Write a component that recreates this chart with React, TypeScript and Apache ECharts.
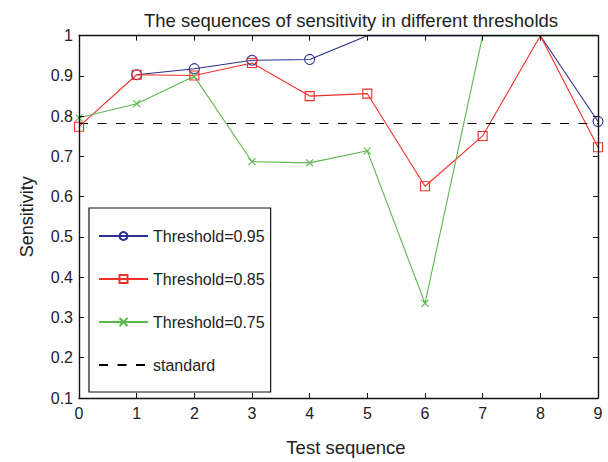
import React, { useEffect, useRef } from "react";
import * as echarts from "echarts";

const xValues = [0, 1, 2, 3, 4, 5, 6, 7, 8, 9];
const threshold095 = [null, 0.903, 0.918, 0.939, 0.941, 1, 1, 1, 1, 0.787];
const threshold085 = [0.774, 0.903, 0.901, 0.932, 0.85, 0.856, 0.626, 0.751, 1, 0.723];
const threshold075 = [0.796, 0.831, 0.899, 0.687, 0.684, 0.714, 0.335, 1, 1, 1];
const standardValue = 0.782;
const seriesNames = ["Threshold=0.95", "Threshold=0.85", "Threshold=0.75", "standard"];
const colors = ["#2b2f8f", "#f2302a", "#5ab84a", "#000000"];

const FONT = "'Liberation Sans', Arial, Helvetica, sans-serif";
const crossPath = "path://M0,0L10,10M10,0L0,10";

function toData(vals: (number | null)[]) {
  return vals.map((v, i) => {
    if (v === null) return [xValues[i], null];
    if (v >= 1) return { value: [xValues[i], v], symbolSize: 0 };
    return [xValues[i], v];
  });
}

export default function App() {
  const ref = useRef<HTMLDivElement>(null);
  useEffect(() => {
    const chart = echarts.init(ref.current!, undefined, { renderer: "svg" });
    const axisCommon = {
      z: 5,
      axisLine: { show: true, onZero: false, lineStyle: { color: "#111", width: 1.4 } },
      axisTick: { show: true, inside: true, length: 5, lineStyle: { color: "#111", width: 1 } },
      splitLine: { show: false },
    };
    const marker = (color: string, symbol: string, size: number) => ({
      symbol,
      symbolSize: size,
      itemStyle: { color: "rgba(0,0,0,0)", borderColor: color, borderWidth: 1.1 },
    });
    chart.setOption({
      animation: false,
      backgroundColor: "#fff",
      title: {
        text: "The sequences of sensitivity in different thresholds",
        left: 346,
        textAlign: "center",
        top: 6,
        textStyle: { fontFamily: FONT, fontSize: 18.5, fontWeight: "normal", color: "#222" },
      },
      grid: { left: 79, right: 10, top: 35.7, bottom: 62, containLabel: false },
      legend: {
        orient: "vertical",
        left: 89,
        top: 208,
        padding: [20, 6, 19, 9],
        itemGap: 27,
        itemWidth: 49,
        itemHeight: 10,
        borderColor: "#111",
        borderWidth: 1.2,
        backgroundColor: "#fff",
        z: 6,
        data: [
          seriesNames[0],
          seriesNames[1],
          seriesNames[2],
          { name: seriesNames[3], itemStyle: { opacity: 0 } },
        ],
        textStyle: { fontFamily: FONT, fontSize: 16, color: "#222" },
      },
      xAxis: [
        {
          ...axisCommon,
          type: "value",
          min: 0,
          max: 9,
          interval: 1,
          position: "bottom",
          name: "Test sequence",
          nameLocation: "middle",
          nameGap: 40,
          nameTextStyle: { fontFamily: FONT, fontSize: 18.5, color: "#222", padding: [0, 0, 0, 15] },
          axisLabel: { margin: 7, fontFamily: FONT, fontSize: 16, color: "#222" },
        },
        {
          ...axisCommon,
          type: "value",
          min: 0,
          max: 9,
          interval: 1,
          position: "top",
          axisLabel: { show: false },
        },
      ],
      yAxis: [
        {
          ...axisCommon,
          type: "value",
          min: 0.1,
          max: 1,
          interval: 0.1,
          position: "left",
          name: "Sensitivity",
          nameLocation: "middle",
          nameGap: 43,
          nameTextStyle: { fontFamily: FONT, fontSize: 18, color: "#222" },
          axisLabel: {
            margin: 6,
            fontFamily: FONT,
            fontSize: 16,
            color: "#222",
            formatter: (v: number) => String(+v.toFixed(1)),
          },
        },
        {
          ...axisCommon,
          type: "value",
          min: 0.1,
          max: 1,
          interval: 0.1,
          position: "right",
          axisLabel: { show: false },
        },
      ],
      series: [
        {
          name: seriesNames[0],
          type: "line",
          data: toData(threshold095),
          lineStyle: { color: colors[0], width: 1.1 },
          ...marker(colors[0], "circle", 10),
          connectNulls: false,
          clip: true,
        },
        {
          name: seriesNames[1],
          type: "line",
          data: toData(threshold085),
          lineStyle: { color: colors[1], width: 1.1 },
          ...marker(colors[1], "rect", 9),
          clip: true,
        },
        {
          name: seriesNames[2],
          type: "line",
          data: toData(threshold075),
          lineStyle: { color: colors[2], width: 1.1 },
          ...marker(colors[2], crossPath, 7),
          clip: true,
        },
        {
          name: seriesNames[3],
          type: "line",
          data: [
            [xValues[0], standardValue],
            [xValues[xValues.length - 1], standardValue],
          ],
          symbol: "none",
          lineStyle: { color: colors[3], width: 1.1, type: [9, 9.5] },
          itemStyle: { color: colors[3] },
          clip: true,
        },
      ],
    });
    return () => chart.dispose();
  }, []);
  return (
    <div
      ref={ref}
      style={{ position: "absolute", left: 0, top: 0, width: 608, height: 462 }}
    />
  );
}
